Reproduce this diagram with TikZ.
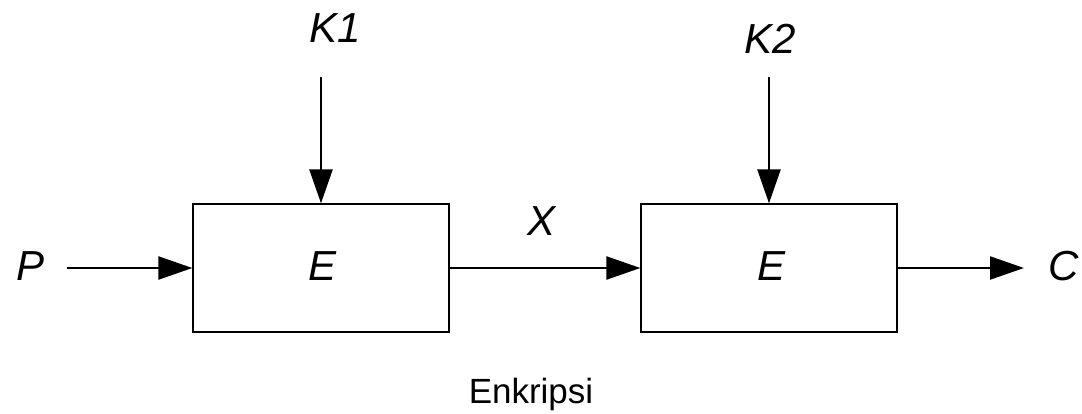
\documentclass[tikz,border=0pt]{standalone}
\usepackage{fontspec}
\setmainfont{Liberation Sans}
\usetikzlibrary{arrows.meta}
\begin{document}
\begin{tikzpicture}[x=1pt,y=-1pt,
  blk/.style={draw=black, line width=1.3pt, minimum width=256pt, minimum height=128pt, inner sep=0pt, anchor=center},
  lbl/.style={font=\fontsize{42}{50}\selectfont\itshape, inner sep=0pt, anchor=base},
  captxt/.style={font=\fontsize{35}{42}\selectfont, inner sep=0pt, anchor=base},
  arr/.style={line width=2.4pt, -{Triangle[length=34pt,width=23pt]}}]
\useasboundingbox (0,0) rectangle (1082,413);
\node[blk] (b1) at (321,268) {};
\node[blk] (b2) at (769,268) {};
\node[lbl] (e1) at (323,280) {E};
\node[lbl] (e2) at (771,280) {E};
\node[lbl] (P) at (31,280) {P};
\node[lbl] (K1) at (335,42) {K1};
\node[lbl] (K2) at (770,53) {K2};
\node[lbl] (X) at (542,235) {X};
\node[lbl] (C) at (1064,280) {C};
\node[captxt] (enk) at (531,403) {Enkripsi};
\coordinate (p0) at (67,268);
\coordinate (c0) at (1024,268);
\coordinate (k10) at (321,77);
\coordinate (k20) at (769,77);
\draw[arr] (p0) -- (b1.west);
\draw[arr] (b1.east) -- (b2.west);
\draw[arr] (b2.east) -- (c0);
\draw[arr] (k10) -- (b1.north);
\draw[arr] (k20) -- (b2.north);
\end{tikzpicture}
\end{document}
